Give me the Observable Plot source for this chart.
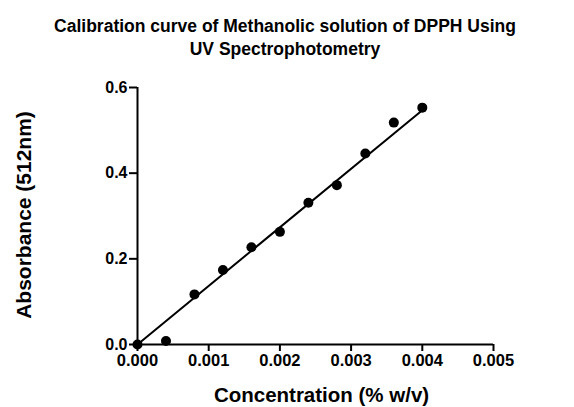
<!DOCTYPE html>
<html>
<head>
<meta charset="utf-8">
<script src="https://cdn.jsdelivr.net/npm/d3@7"></script>
<script src="https://cdn.jsdelivr.net/npm/@observablehq/plot@0.6"></script>
<style>
  html, body { margin: 0; padding: 0; background: #fff; }
  #title {
    box-sizing: border-box; width: 574px; height: 60px; padding: 15px 4px 0 0;
    font-family: "Liberation Sans", Arial, sans-serif; font-weight: bold;
    font-size: 17.5px; line-height: 22.5px; text-align: center; color: #000;
  }
  svg { display: block; }
</style>
</head>
<body>
<div id="title">Calibration curve of Methanolic solution of DPPH Using<br>UV Spectrophotometry</div>
<div id="chart"></div>
<script>
const concentration = [0, 0.0004, 0.0008, 0.0012, 0.0016, 0.0020, 0.0024, 0.0028, 0.0032, 0.0036, 0.0040];
const absorbance = [0, 0.008, 0.117, 0.174, 0.227, 0.263, 0.331, 0.372, 0.446, 0.518, 0.553];
const fitX = [0, 0.004];
const fitY = [0, 0.547];
const xTicks = [0, 0.001, 0.002, 0.003, 0.004, 0.005];
const yTicks = [0, 0.2, 0.4, 0.6];
const xLabel = "Concentration (% w/v)";
const yLabel = "Absorbance (512nm)";

const points = concentration.map((c, i) => ({c, a: absorbance[i]}));
const fit = fitX.map((c, i) => ({c, a: fitY[i]}));
const font = "Liberation Sans, Arial, sans-serif";

const chart = Plot.plot({
  width: 574,
  height: 347,
  marginLeft: 137,
  marginRight: 81,
  marginTop: 27,
  marginBottom: 63,
  style: {fontFamily: font, fontWeight: "bold", color: "#000", background: "#fff", overflow: "visible"},
  x: {domain: [0, 0.005]},
  y: {domain: [0, 0.6]},
  marks: [
    Plot.ruleX([0], {y1: 0, y2: 0.6, stroke: "#000", strokeWidth: 2}),
    Plot.ruleY([0], {x1: 0, x2: 0.005, stroke: "#000", strokeWidth: 2}),
    Plot.axisX({ticks: xTicks, tickFormat: d3.format(".3f"), tickSize: 7, tickPadding: 3,
      fontSize: 16.5, strokeWidth: 2, label: null, fill: "#000"}),
    Plot.axisY({ticks: yTicks, tickFormat: d3.format(".1f"), tickSize: 8, tickPadding: 2,
      fontSize: 16, strokeWidth: 2, label: null, fill: "#000"}),
    Plot.line(fit, {x: "c", y: "a", stroke: "#000", strokeWidth: 2}),
    Plot.dot(points, {x: "c", y: "a", r: 5, fill: "#000", stroke: "none"}),
    Plot.text([xLabel], {frameAnchor: "bottom", lineAnchor: "bottom", textAnchor: "middle", dx: 6, dy: 57,
      fontSize: 20.5, fontWeight: "bold", fill: "#000"}),
    Plot.text([yLabel], {frameAnchor: "left", textAnchor: "middle", rotate: -90, dx: -113, dy: -1,
      fontSize: 21, fontWeight: "bold", fill: "#000"})
  ]
});
document.getElementById("chart").appendChild(chart);
</script>
</body>
</html>
